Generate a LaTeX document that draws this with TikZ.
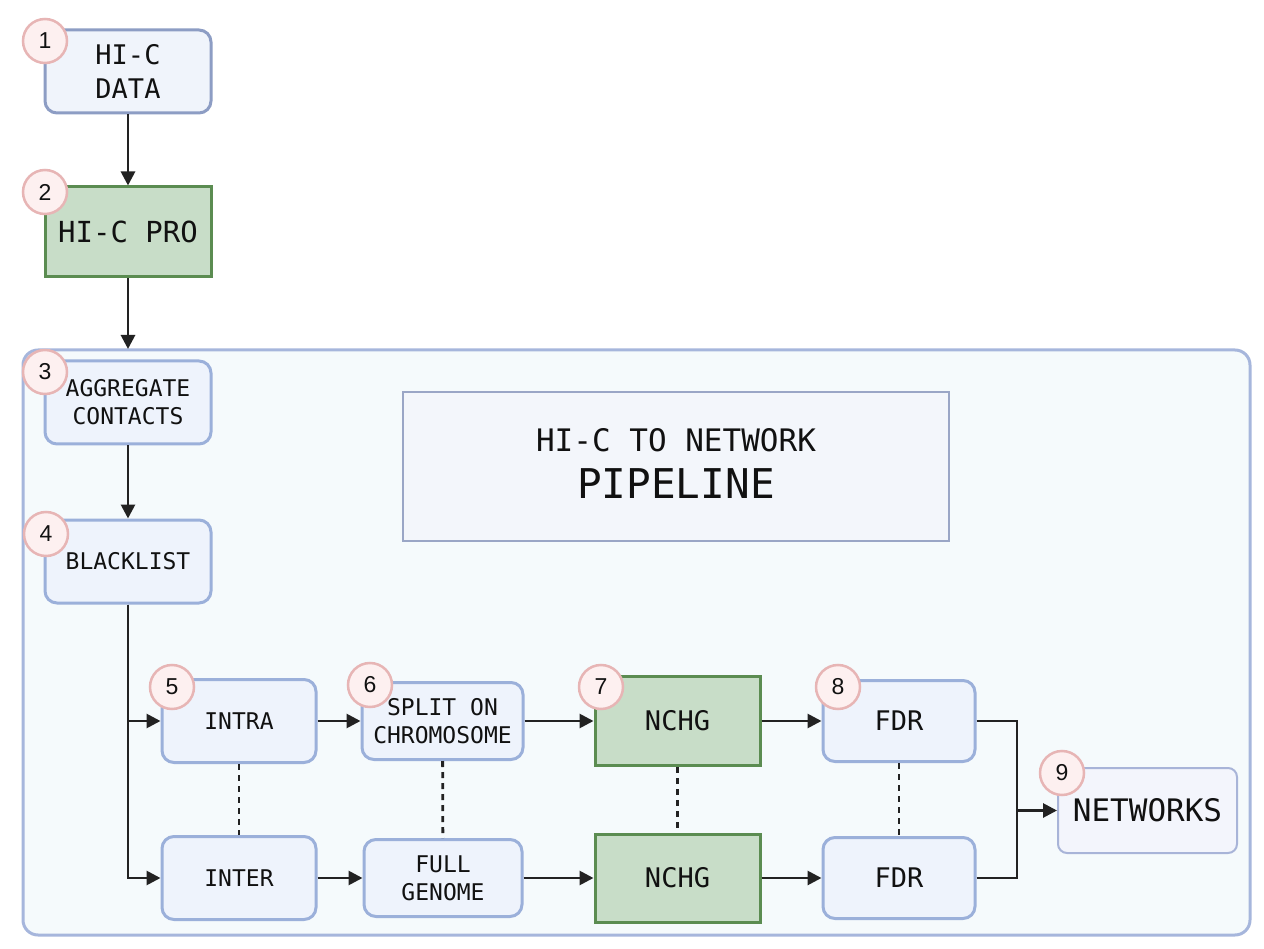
\documentclass[tikz,border=0pt]{standalone}
\usepackage{fontspec}
\setmainfont{DejaVu Sans Mono}
\newfontfamily\badgefont{Liberation Sans}
\usetikzlibrary{arrows.meta}
\definecolor{bfill}{HTML}{EEF3FC}
\definecolor{bborder}{HTML}{9BB0DA}
\definecolor{b1fill}{HTML}{F0F4FB}
\definecolor{b1border}{HTML}{8D9DC4}
\definecolor{gfill}{HTML}{C8DDC8}
\definecolor{gborder}{HTML}{5B8C51}
\definecolor{pfill}{HTML}{FDF0F0}
\definecolor{pborder}{HTML}{E7B5B5}
\definecolor{cfill}{HTML}{F5FAFC}
\definecolor{cborder}{HTML}{A6B6DC}
\definecolor{tfill}{HTML}{F3F6FB}
\definecolor{tborder}{HTML}{9AA6C6}
\definecolor{nfill}{HTML}{F3F5FC}
\definecolor{nborder}{HTML}{A8B4D8}
\definecolor{arrowc}{HTML}{222222}
\definecolor{txt}{HTML}{111111}
\begin{document}
\begin{tikzpicture}[x=1pt,y=-1pt,
  bluebox/.style={draw=bborder, fill=bfill, line width=3pt, rounded corners=12pt, align=center, inner sep=0pt, text=txt},
  greenbox/.style={draw=gborder, fill=gfill, line width=3pt, align=center, inner sep=0pt, text=txt},
  badge/.style={circle, draw=pborder, fill=pfill, line width=2.5pt, minimum size=44pt, inner sep=0pt, text=txt, font=\badgefont\fontsize{23}{23}\selectfont},
  arr/.style={line width=2.8pt, draw=arrowc, -{Triangle[length=14pt,width=14pt]}},
  plain/.style={line width=2.8pt, draw=arrowc},
  dots/.style={line width=2.8pt, draw=arrowc, dash pattern=on 6pt off 5pt},
  fsmall/.style={font=\fontsize{23}{28}\selectfont},
  fmid/.style={font=\fontsize{27}{34}\selectfont},
]
\useasboundingbox (0,0) rectangle (1264,949);
\fill[white] (0,0) rectangle (1264,949);

% container
\node[draw=cborder, fill=cfill, line width=3pt, rounded corners=15pt, minimum width=1227pt, minimum height=585pt, inner sep=0pt] (cont) at (636.5,642.5) {};
\coordinate (ctop) at (128,349);

% title
\node[draw=tborder, fill=tfill, line width=1.8pt, minimum width=546pt, minimum height=149pt, inner sep=0pt] (title) at (676,466.5) {};
\node[text=txt, font=\fontsize{31}{31}\selectfont, inner sep=0pt] (tl1) at (676,440) {HI-C TO NETWORK};
\node[text=txt, font=\fontsize{41}{41}\selectfont, inner sep=0pt] (tl2) at (676,484) {PIPELINE};

% nodes
\node[bluebox, draw=b1border, fill=b1fill, fmid, minimum width=166pt, minimum height=83pt] (n1) at (128,71.5) {HI-C\\DATA};
\node[greenbox, font=\fontsize{29}{34}\selectfont, minimum width=166pt, minimum height=90pt] (n2) at (128,232) {HI-C PRO};
\node[bluebox, fsmall, minimum width=166pt, minimum height=83pt] (n3) at (128,402.5) {AGGREGATE\\CONTACTS};
\node[bluebox, fsmall, minimum width=166pt, minimum height=83pt] (n4) at (128,561.5) {BLACKLIST};

\node[bluebox, fsmall, minimum width=154pt, minimum height=83pt] (n5) at (239,721) {INTRA};
\node[bluebox, fsmall, minimum width=161pt, minimum height=77pt] (n6) at (442.5,721) {SPLIT ON\\CHROMOSOME};
\node[greenbox, fmid, minimum width=165pt, minimum height=89pt] (n7) at (677.5,721) {NCHG};
\node[bluebox, fmid, minimum width=152pt, minimum height=81pt] (n8) at (899,721) {FDR};

\node[bluebox, fsmall, minimum width=154pt, minimum height=83pt] (m5) at (239,878) {INTER};
\node[bluebox, fsmall, minimum width=158pt, minimum height=77pt] (m6) at (443,878) {FULL\\GENOME};
\node[greenbox, fmid, minimum width=165pt, minimum height=88pt] (m7) at (677.5,878) {NCHG};
\node[bluebox, fmid, minimum width=152pt, minimum height=81pt] (m8) at (899,878) {FDR};

\node[bluebox, draw=nborder, fill=nfill, line width=2pt, rounded corners=9pt, font=\fontsize{31}{31}\selectfont, minimum width=179pt, minimum height=85pt] (n9) at (1147.5,810.5) {NETWORKS};
\coordinate (j) at (1017,810.5);

% connectors
\draw[arr] (n1) -- (n2);
\draw[arr] (n2) -- (ctop);
\draw[arr] (n3) -- (n4);
\draw[arr] (n4.south) |- (n5.west);
\draw[arr] (n4.south) |- (m5.west);
\draw[arr] (n5) -- (n6);
\draw[arr] (n6) -- (n7);
\draw[arr] (n7) -- (n8);
\draw[arr] (m5) -- (m6);
\draw[arr] (m6) -- (m7);
\draw[arr] (m7) -- (m8);
\draw[plain] (n8.east) -| (j);
\draw[plain] (m8.east) -| (j);
\draw[arr] (j) -- (n9.west);
\draw[dots] (n5) -- (m5);
\draw[dots] (n6) -- (m6);
\draw[dots] (n7) -- (m7);
\draw[dots] (n8) -- (m8);

% badges
\node[badge] (b1) at (45,41) {1};
\node[badge] (b2) at (45,192) {2};
\node[badge] (b3) at (45,372) {3};
\node[badge] (b4) at (46,534) {4};
\node[badge] (b5) at (172,687) {5};
\node[badge] (b6) at (370,685) {6};
\node[badge] (b7) at (601,687) {7};
\node[badge] (b8) at (838,687) {8};
\node[badge] (b9) at (1062,773) {9};
\end{tikzpicture}
\end{document}
